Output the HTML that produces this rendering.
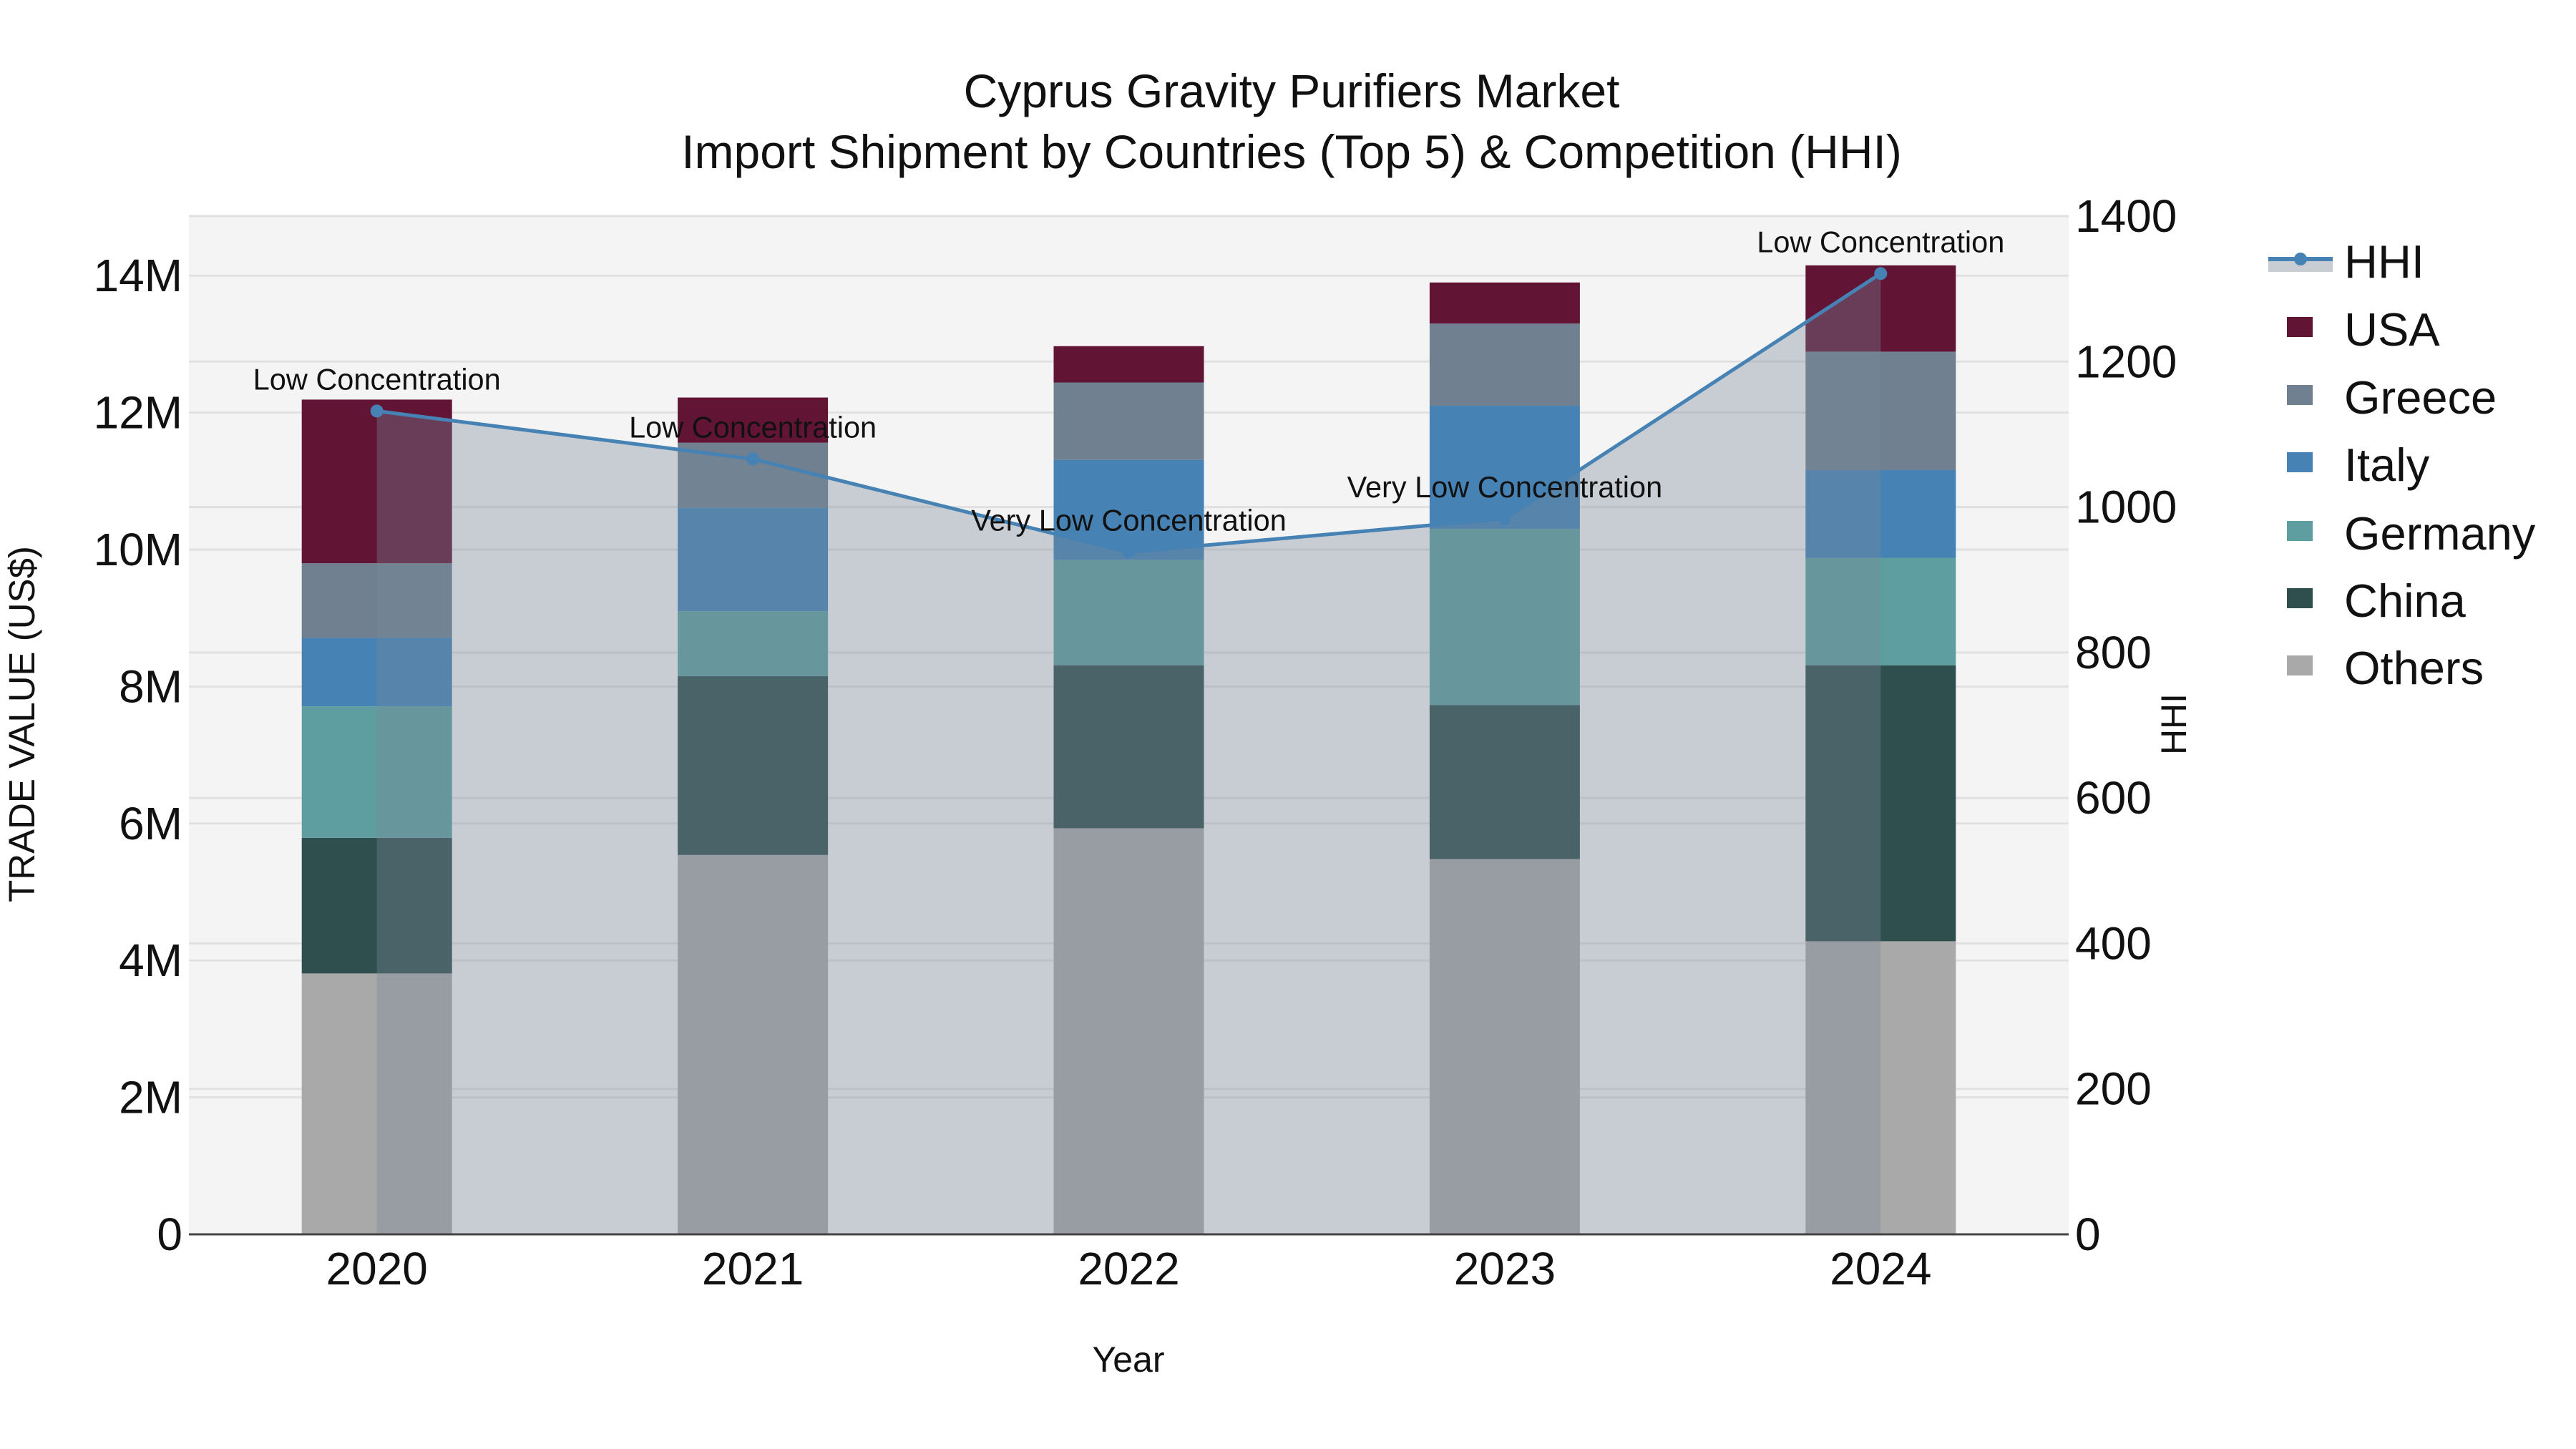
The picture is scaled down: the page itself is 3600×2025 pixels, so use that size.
<!DOCTYPE html>
<html><head><meta charset="utf-8"><style>
html,body{margin:0;padding:0;background:#fff;}
svg{display:block;font-family:"Liberation Sans",Arial,sans-serif;}
</style></head><body>
<svg id="chart" width="3600" height="2025" viewBox="0 0 3600 2025" xmlns="http://www.w3.org/2000/svg">
<rect x="0" y="0" width="3600" height="2025" fill="#ffffff"/>
<rect x="264" y="302" width="2627" height="1423" fill="#f4f4f4"/>
<g id="grid"></g><g id="bars"></g><g id="area"></g><g id="line"></g><g id="ann"></g><g id="axes"></g>
<text x="1805" y="150" font-size="66" text-anchor="middle" fill="#111">Cyprus Gravity Purifiers Market</text>
<text x="1805" y="235" font-size="66" text-anchor="middle" fill="#111">Import Shipment by Countries (Top 5) &amp; Competition (HHI)</text>
<text x="1577" y="1917" font-size="50" text-anchor="middle" fill="#111">Year</text>
<text transform="translate(48,1012) rotate(-90)" font-size="51" text-anchor="middle" fill="#111">TRADE VALUE (US$)</text>
<text transform="translate(3055,1012) rotate(-90)" font-size="50" text-anchor="middle" fill="#111">HHI</text>
<g id="legend"></g>
</svg>
<script>
const categories = ["2020","2021","2022","2023","2024"];
const seriesNames = ["Others","China","Germany","Italy","Greece","USA"];
const seriesColors = ["#a9a9a9","#2f4f4f","#5f9ea0","#4682b4","#708090","#611434"];
const others  = [3.81, 5.54, 5.93, 5.48, 4.28];
const china   = [1.98, 2.61, 2.38, 2.25, 4.03];
const germany = [1.92, 0.95, 1.54, 2.57, 1.57];
const italy   = [1.00, 1.51, 1.46, 1.80, 1.28];
const greece  = [1.09, 0.95, 1.13, 1.20, 1.73];
const usa     = [2.39, 0.66, 0.53, 0.60, 1.26];
const hhi = [1132, 1066, 938, 984, 1321];
const hhiLabels = ["Low Concentration","Low Concentration","Very Low Concentration","Very Low Concentration","Low Concentration"];
const yTicks = [0,2,4,6,8,10,12,14];
const yTickLabels = ["0","2M","4M","6M","8M","10M","12M","14M"];
const y2Ticks = [0,200,400,600,800,1000,1200,1400];

const NS="http://www.w3.org/2000/svg";
const L=264,R=2891,T=302,B=1725;
const catW=(R-L)/categories.length;
const xS=i=>L+catW*(i+0.5);
const yMax=(B-T)/95.7;
const yS=v=>B-(v/yMax)*(B-T);
const y2S=v=>B-(v/1400)*(B-T);
function mk(tag,attrs,parent){const e=document.createElementNS(NS,tag);for(const k in attrs)e.setAttribute(k,attrs[k]);parent.appendChild(e);return e;}
const g=id=>document.getElementById(id);

yTicks.forEach((t,i)=>{const e=mk('line',{x1:L,x2:R,y1:yS(t),y2:yS(t),stroke:'#e1e1e1','stroke-width':3},g('grid'));

});
y2Ticks.forEach(t=>{const e=mk('line',{x1:L,x2:R,y1:y2S(t),y2:y2S(t),stroke:'#e1e1e1','stroke-width':3},g('grid'));

});

const series=[others,china,germany,italy,greece,usa];
const bw=210;
categories.forEach((c,i)=>{let base=0;series.forEach((s,k)=>{const y0=yS(base),y1=yS(base+s[i]);
const r=mk('rect',{x:xS(i)-bw/2,y:y1,width:bw,height:y0-y1,fill:seriesColors[k]},g('bars'));


base+=s[i];});});

let d='M'+xS(0)+','+B;hhi.forEach((v,i)=>{d+=' L'+xS(i)+','+y2S(v);});d+=' L'+xS(hhi.length-1)+','+B+' Z';
const ar=mk('path',{d:d,fill:'rgba(119,136,153,0.36)'},g('area'));


const pl=mk('polyline',{points:hhi.map((v,i)=>xS(i)+','+y2S(v)).join(' '),fill:'none',stroke:'#4682b4','stroke-width':5},g('line'));


hhi.forEach((v,i)=>{const c=mk('circle',{cx:xS(i),cy:y2S(v),r:9,fill:'#4682b4'},g('line'));


const t=mk('text',{x:xS(i),y:y2S(v)-30,'font-size':41.5,'text-anchor':'middle',fill:'#111'},g('ann'));


t.textContent=hhiLabels[i];});

const ax=mk('line',{x1:L,x2:R,y1:B,y2:B,stroke:'#444','stroke-width':3},g('axes'));


yTicks.forEach((t,i)=>{const e=mk('text',{x:255,y:yS(t)+22,'font-size':64,'text-anchor':'end',fill:'#111'},g('axes'));


e.textContent=yTickLabels[i];});
y2Ticks.forEach(t=>{const e=mk('text',{x:2900,y:y2S(t)+22,'font-size':64,fill:'#111'},g('axes'));


e.textContent=String(t);});
categories.forEach((c,i)=>{const e=mk('text',{x:xS(i),y:1795,'font-size':64,'text-anchor':'middle',fill:'#111'},g('axes'));


e.textContent=c;});

const lg=g('legend');
const lf=mk('rect',{x:3170,y:362,width:90,height:18,fill:'#c8ccd3'},lg);


const ll=mk('line',{x1:3170,x2:3260,y1:362,y2:362,stroke:'#4682b4','stroke-width':6},lg);


const lc=mk('circle',{cx:3215,cy:362,r:9,fill:'#4682b4'},lg);


const lt=mk('text',{x:3276,y:388,'font-size':65,fill:'#111'},lg);


lt.textContent='HHI';
const legOrder=[5,4,3,2,1,0];
const legY=[461,556,650,746,840,934];
legOrder.forEach((k,j)=>{const r=mk('rect',{x:3196,y:legY[j]-18,width:36,height:28,fill:seriesColors[k]},lg);


const t=mk('text',{x:3276,y:legY[j]+22,'font-size':65,fill:'#111'},lg);


t.textContent=seriesNames[k];});
</script>
</body></html>
